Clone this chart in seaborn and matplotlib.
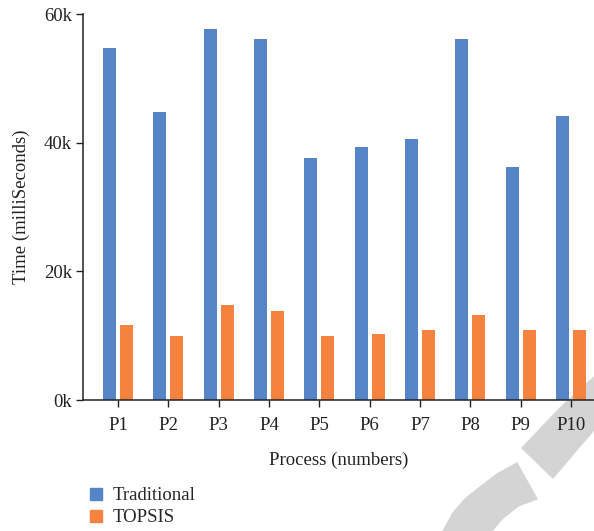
import pandas as pd
import matplotlib.pyplot as plt
import seaborn as sns
from matplotlib.patches import Polygon
from matplotlib.lines import Line2D

# colours
AZUL = "#5585C6"
LARANJA = "#F5833F"

# data
processos = ["P1", "P2", "P3", "P4", "P5", "P6", "P7", "P8", "P9", "P10"]
tradicional = [54700, 44800, 57700, 56100, 37600, 39300, 40600, 56100, 36200, 44100]
topsis = [11700, 9950, 14800, 13800, 9950, 10300, 10900, 13200, 10900, 10900]
series = ["Traditional", "TOPSIS"]

df = pd.DataFrame({
    "Process": processos * 2,
    "Time": tradicional + topsis,
    "Method": [series[0]] * len(processos) + [series[1]] * len(processos),
})

sns.set_style("white")
plt.rcParams["font.family"] = ["Liberation Serif", "DejaVu Serif"]

fig = plt.figure(figsize=(5.94, 5.31), dpi=100)
ax = fig.add_axes([0.1397, 0.2467, 0.8603, 0.7269])
ax.patch.set_alpha(0)

sns.barplot(data=df, x="Process", y="Time", hue="Method", order=processos,
            hue_order=series, palette=[AZUL, LARANJA], width=0.68, gap=0.235,
            saturation=1, linewidth=0, legend=False, ax=ax)

ax.set_xlim(-0.695, 9.457)
ax.set_ylim(0, 60000)
ax.set_yticks([0, 20000, 40000, 60000])
ax.set_yticklabels(["0k", "20k", "40k", "60k"])
ax.set_xlabel("Process (numbers)", fontsize=13.5, labelpad=13, color="#222222")
ax.set_ylabel("Time (milliSeconds)", fontsize=13.5, labelpad=10, color="#222222")
ax.tick_params(axis="both", labelsize=13.5, colors="#222222", direction="out",
               length=5, width=1, left=True, bottom=True)
ax.tick_params(axis="x", pad=7)
ax.tick_params(axis="y", pad=3)
sns.despine(ax=ax)
for s in ["left", "bottom"]:
    ax.spines[s].set_color("#222222")
    ax.spines[s].set_linewidth(1.1)

# legend
handles = [Line2D([], [], marker="s", linestyle="", markersize=8, color=c)
           for c in [AZUL, LARANJA]]
fig.legend(handles, series, loc="upper left", bbox_to_anchor=(0.118, 0.114),
           frameon=False, fontsize=13.5, handletextpad=0.35, labelspacing=0.25,
           handlelength=1.0)

# watermark arc (gray band, bottom right)
def fx(p):
    return [(x / 594, 1 - y / 531) for x, y in p]

GRIS = "#D4D4D4"
fig.patches.append(Polygon(fx([(594, 377), (560, 408), (522, 448), (553, 478),
                               (575, 452), (594, 430)]),
                           closed=True, transform=fig.transFigure,
                           color=GRIS, zorder=-1))
fig.patches.append(Polygon(fx([(517, 463), (497, 474), (480, 487), (465, 499),
                               (453, 513), (443, 531), (492, 531), (502, 519),
                               (518, 506), (537, 499)]),
                           closed=True, transform=fig.transFigure,
                           color=GRIS, zorder=-1))

fig.savefig("out.png", dpi=100)
